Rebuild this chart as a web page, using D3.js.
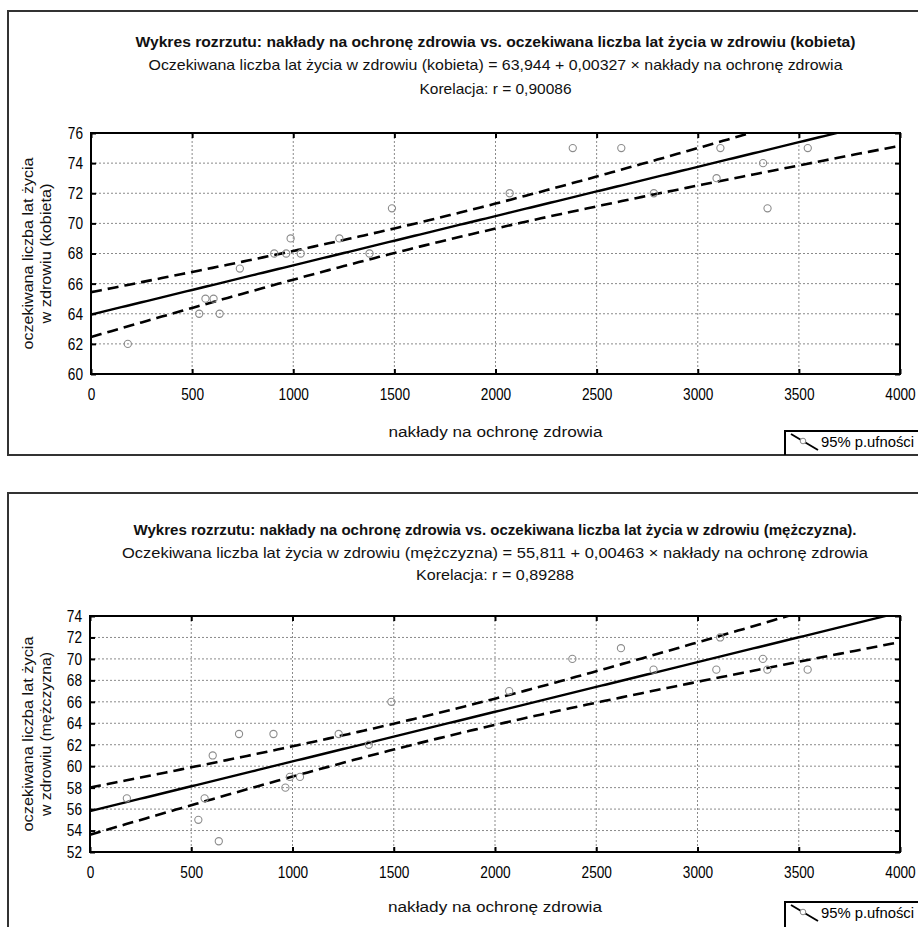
<!DOCTYPE html>
<html><head><meta charset="utf-8">
<script src="https://cdn.jsdelivr.net/npm/d3@7"></script>
<style>
html,body{margin:0;padding:0;background:#fff;}
svg{display:block;}
</style></head>
<body>
<svg id="chart" width="918" height="927"></svg>
<script>
// ---- data ----
const spending = [182, 535, 566, 606, 636, 736, 906, 965, 987, 1037, 1228, 1377, 1488, 2070, 2382, 2622, 2783, 3093, 3112, 3323, 3345, 3544];
const femaleYears = [62, 64, 65, 65, 64, 67, 68, 68, 69, 68, 69, 68, 71, 72, 75, 75, 72, 73, 75, 74, 71, 75];
const maleYears = [57, 55, 57, 61, 53, 63, 63, 58, 59, 59, 63, 62, 66, 67, 70, 71, 69, 69, 72, 70, 69, 69];
const xTicks = [0, 500, 1000, 1500, 2000, 2500, 3000, 3500, 4000];
const femaleYTicks = [60, 62, 64, 66, 68, 70, 72, 74, 76];
const maleYTicks = [52, 54, 56, 58, 60, 62, 64, 66, 68, 70, 72, 74];
const intercepts = [63.944, 55.811];
const slopes = [0.00327, 0.00463];
const titles = [
  "Wykres rozrzutu: nakłady na ochronę zdrowia vs. oczekiwana liczba lat życia w zdrowiu (kobieta)",
  "Wykres rozrzutu: nakłady na ochronę zdrowia vs. oczekiwana liczba lat życia w zdrowiu (mężczyzna)."
];
const subtitles = [
  "Oczekiwana liczba lat życia w zdrowiu (kobieta) = 63,944 + 0,00327 × nakłady na ochronę zdrowia",
  "Oczekiwana liczba lat życia w zdrowiu (mężczyzna) = 55,811 + 0,00463 × nakłady na ochronę zdrowia"
];
const correlations = ["Korelacja: r = 0,90086", "Korelacja: r = 0,89288"];
const yTitles = [["oczekiwana liczba lat życia", "w zdrowiu (kobieta)"], ["oczekiwana liczba lat życia", "w zdrowiu (mężczyzna)"]];
const xTitle = "nakłady na ochronę zdrowia";
const legendLabel = "95% p.ufności";

// ---- layout ----
const panels = [
  {ys: femaleYears, yTicks: femaleYTicks, top: 11, bottom: 455, tY: [42, 65, 89], pTop: 133, pBot: 374, left: 91, right: 900, xTit: 432, leg: 431,
   tW: [720, 694, 152], yW: [192, 140]},
  {ys: maleYears, yTicks: maleYTicks, top: 493, bottom: 960, tY: [530, 553, 575], pTop: 616, pBot: 852, left: 90, right: 900, xTit: 907, leg: 902,
   tW: [723, 746, 158], yW: [195, 164]}
];
const FONT = "'Liberation Sans',Arial,sans-serif";
const svg = d3.select("#chart");
const T975_20 = 2.086; // Student t quantile, 20 d.f.

function fitText(sel, w) { sel.attr("textLength", w).attr("lengthAdjust", "spacingAndGlyphs"); }
function squeeze(sel, w) {
  const node = sel.node();
  const nat = node.getComputedTextLength();
  const k = Math.min(1, w / nat);
  const x0 = +(sel.attr("x") || 0);
  sel.attr("x", x0 / k).attr("transform", `scale(${k},1)`);
}

panels.forEach((p, i) => {
  const g = svg.append("g");
  // panel border (right edge lies outside the picture)
  g.append("path")
    .attr("d", `M930,${p.top}H8V${p.bottom}H930`)
    .attr("fill", "none").attr("stroke", "#333").attr("stroke-width", 2);

  const cx = (p.left + p.right) / 2;
  [titles[i], subtitles[i], correlations[i]].forEach((txt, k) => {
    const t = g.append("text").attr("x", cx).attr("y", p.tY[k] + 5).attr("text-anchor", "middle")
      .style("font-family", FONT).style("font-size", "14.5px").style("font-weight", k === 0 ? "bold" : "normal")
      .attr("fill", "#111").text(txt);
    fitText(t, p.tW[k]);
  });

  const x = d3.scaleLinear().domain([0, 4000]).range([p.left, p.right]);
  const y = d3.scaleLinear().domain([p.yTicks[0], p.yTicks[p.yTicks.length - 1]]).range([p.pBot, p.pTop]);

  // grid
  const grid = g.append("g").attr("stroke", "#8a8a8a").attr("stroke-width", 1).attr("stroke-dasharray", "2,2");
  xTicks.slice(1, -1).forEach(v => grid.append("line").attr("x1", x(v)).attr("x2", x(v)).attr("y1", p.pTop).attr("y2", p.pBot));
  p.yTicks.slice(1, -1).forEach(v => grid.append("line").attr("x1", p.left).attr("x2", p.right).attr("y1", y(v)).attr("y2", y(v)));

  // axes (ticks inward on all sides)
  const axB = d3.axisBottom(x).tickValues(xTicks).tickSize(-5).tickPadding(14).tickFormat(d3.format("d"));
  const axT = d3.axisTop(x).tickValues(xTicks).tickSize(-5).tickFormat("");
  const axL = d3.axisLeft(y).tickValues(p.yTicks).tickSize(-5).tickPadding(8).tickFormat(d3.format("d"));
  const axR = d3.axisRight(y).tickValues(p.yTicks).tickSize(-5).tickFormat("");
  [[axB, `translate(0,${p.pBot})`], [axT, `translate(0,${p.pTop})`], [axL, `translate(${p.left},0)`], [axR, `translate(${p.right},0)`]].forEach(([ax, tr]) => {
    const a = g.append("g").attr("transform", tr).call(ax);
    a.select(".domain").remove();
    a.selectAll(".tick line").attr("stroke", "#000").attr("stroke-width", 2);
    a.selectAll("text").style("font-family", FONT).style("font-size", "17px").attr("fill", "#000")
      .each(function () { const s = d3.select(this); if (s.text()) squeeze(s, s.text().length * 7.6); });
  });

  // clip
  const cid = "clip" + i;
  svg.append("clipPath").attr("id", cid).append("rect")
    .attr("x", p.left).attr("y", p.pTop).attr("width", p.right - p.left).attr("height", p.pBot - p.pTop);

  // regression line & 95% confidence band for the mean
  const a0 = intercepts[i], b0 = slopes[i];
  const n = spending.length;
  const xbar = d3.mean(spending);
  const sxx = d3.sum(spending, v => (v - xbar) ** 2);
  const sse = d3.sum(spending, (v, k) => (p.ys[k] - (a0 + b0 * v)) ** 2);
  const s = Math.sqrt(sse / (n - 2));
  const xs = d3.range(0, 4001, 25);
  const band = xs.map(v => {
    const yh = a0 + b0 * v;
    const h = T975_20 * s * Math.sqrt(1 / n + (v - xbar) ** 2 / sxx);
    return {v, yh, lo: yh - h, hi: yh + h};
  });
  const plot = g.append("g").attr("clip-path", `url(#${cid})`);
  const lineHi = d3.line().x(d => x(d.v)).y(d => y(d.hi));
  const lineLo = d3.line().x(d => x(d.v)).y(d => y(d.lo));
  const lineFit = d3.line().x(d => x(d.v)).y(d => y(d.yh));
  plot.append("path").datum(band).attr("d", lineHi).attr("fill", "none").attr("stroke", "#000").attr("stroke-width", 2.6).attr("stroke-dasharray", "11,6");
  plot.append("path").datum(band).attr("d", lineLo).attr("fill", "none").attr("stroke", "#000").attr("stroke-width", 2.6).attr("stroke-dasharray", "11,6");
  plot.append("path").datum(band).attr("d", lineFit).attr("fill", "none").attr("stroke", "#000").attr("stroke-width", 2.4);

  // points
  plot.selectAll("circle.pt").data(spending).enter().append("circle")
    .attr("cx", d => x(d)).attr("cy", (d, k) => y(p.ys[k])).attr("r", 3.6)
    .attr("fill", "none").attr("stroke", "#8c8c8c").attr("stroke-width", 1.1);

  // frame
  g.append("rect").attr("x", p.left).attr("y", p.pTop).attr("width", p.right - p.left).attr("height", p.pBot - p.pTop)
    .attr("fill", "none").attr("stroke", "#000").attr("stroke-width", 2);

  // axis titles
  const xt = g.append("text").attr("x", cx).attr("y", p.xTit + 5).attr("text-anchor", "middle")
    .style("font-family", FONT).style("font-size", "15.5px").attr("fill", "#111").text(xTitle);
  fitText(xt, 214);
  const ymid = (p.pTop + p.pBot) / 2;
  yTitles[i].forEach((ln, k) => {
    const t = g.append("text").attr("transform", `translate(${[33, 51][k]},${ymid}) rotate(-90)`).attr("text-anchor", "middle")
      .style("font-family", FONT).style("font-size", "15.5px").attr("fill", "#111").text(ln);
    fitText(t, p.yW[k]);
  });

  // legend
  const lg = g.append("g");
  const legBottom = Math.min(p.bottom, 960);
  lg.append("path").attr("d", `M930,${p.leg}H785V${legBottom}`).attr("fill", "none").attr("stroke", "#000").attr("stroke-width", 2);
  lg.append("line").attr("x1", 791).attr("y1", p.leg + 3).attr("x2", 818).attr("y2", p.leg + 19).attr("stroke", "#000").attr("stroke-width", 2);
  lg.append("circle").attr("cx", 803).attr("cy", p.leg + 10).attr("r", 2.8).attr("fill", "#fff").attr("stroke", "#888").attr("stroke-width", 1);
  const lt = lg.append("text").attr("x", 821).attr("y", p.leg + 16).style("font-family", FONT).style("font-size", "15px").attr("fill", "#000").text(legendLabel);
  fitText(lt, 93);
});
</script>
</body></html>
